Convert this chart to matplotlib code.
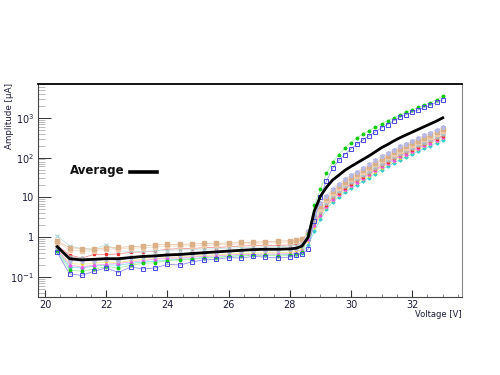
import numpy as np
import matplotlib
matplotlib.use("Agg")
import matplotlib.pyplot as plt
from matplotlib.ticker import LogLocator, FixedLocator, MultipleLocator, NullFormatter
from matplotlib.lines import Line2D

# Voltage grid (V)
voltage = [20.4, 20.8, 21.2, 21.6, 22.0, 22.4, 22.8, 23.2, 23.6, 24.0, 24.4, 24.8,
           25.2, 25.6, 26.0, 26.4, 26.8, 27.2, 27.6, 28.0, 28.2, 28.4,
           28.6, 28.8, 29.0, 29.2, 29.4, 29.6, 29.8, 30.0, 30.2, 30.4, 30.6, 30.8,
           31.0, 31.2, 31.4, 31.6, 31.8, 32.0, 32.2, 32.4, 32.6, 32.8, 33.0]

# Amplitudes (uA)
average = [0.58, 0.29, 0.27, 0.28, 0.29, 0.29, 0.31, 0.33, 0.34, 0.36, 0.37, 0.39,
           0.41, 0.43, 0.45, 0.47, 0.49, 0.5, 0.5, 0.51, 0.53, 0.6,
           1.0, 4.5, 10.7, 18, 27.5, 36, 48, 60, 74, 91, 112, 141,
           178, 214, 263, 316, 372, 437, 513, 603, 708, 832, 1000]
green = [0.45, 0.15, 0.14, 0.16, 0.18, 0.17, 0.2, 0.22, 0.23, 0.26, 0.27, 0.28,
         0.3, 0.31, 0.33, 0.34, 0.35, 0.35, 0.34, 0.35, 0.37, 0.42,
         1.2, 6.3, 16, 40, 76, 120, 178, 240, 316, 398, 479, 589,
         708, 851, 1000, 1175, 1380, 1585, 1820, 2090, 2400, 2880, 3550]
blue = [0.42, 0.12, 0.11, 0.14, 0.17, 0.13, 0.18, 0.16, 0.17, 0.21, 0.2, 0.24,
        0.27, 0.28, 0.31, 0.3, 0.33, 0.32, 0.3, 0.32, 0.35, 0.38,
        0.5, 2.5, 10.5, 26, 54, 85, 120, 166, 219, 282, 355, 447,
        562, 676, 851, 1023, 1200, 1380, 1585, 1820, 2090, 2450, 2820]
lavender = [0.52, 0.26, 0.25, 0.26, 0.28, 0.27, 0.3, 0.32, 0.33, 0.35, 0.36, 0.38,
            0.4, 0.42, 0.44, 0.46, 0.47, 0.48, 0.49, 0.5, 0.55, 0.65,
            1.4, 3.5, 7.1, 11.2, 16.6, 21.9, 28.8, 36.3, 44.7, 55, 67.6, 85,
            107, 129, 158, 191, 224, 263, 309, 363, 427, 501, 589]
tan = [0.8, 0.55, 0.52, 0.5, 0.55, 0.56, 0.58, 0.6, 0.64, 0.66, 0.66, 0.68,
       0.7, 0.7, 0.72, 0.74, 0.75, 0.78, 0.8, 0.82, 0.85, 0.9,
       1.26, 3.16, 6.0, 9.5, 14.5, 19, 25, 31.6, 39, 48, 59, 74,
       93, 112, 138, 166, 195, 229, 269, 316, 372, 437, 513]
peach = [0.75, 0.48, 0.45, 0.46, 0.5, 0.52, 0.53, 0.55, 0.57, 0.6, 0.6, 0.62,
         0.63, 0.65, 0.66, 0.68, 0.7, 0.72, 0.74, 0.76, 0.8, 0.88,
         1.32, 2.8, 5.2, 8.7, 13.2, 17.4, 22.9, 28.8, 35.5, 43.7, 53.7, 67.6,
         85, 102, 126, 151, 178, 209, 245, 288, 339, 398, 468]
teal = [1.1, 0.6, 0.52, 0.5, 0.65, 0.45, 0.45, 0.44, 0.46, 0.47, 0.48, 0.5,
        0.5, 0.52, 0.53, 0.55, 0.56, 0.57, 0.58, 0.6, 0.62, 0.7,
        1.0, 2.5, 4.8, 7.9, 12, 15.8, 20.9, 26.3, 32.4, 39.8, 49, 61.7,
        77.6, 93.3, 115, 138, 162, 191, 224, 263, 309, 363, 427]
gray = [0.6, 0.32, 0.3, 0.27, 0.3, 0.26, 0.32, 0.34, 0.35, 0.37, 0.38, 0.4,
        0.41, 0.43, 0.45, 0.46, 0.48, 0.49, 0.5, 0.52, 0.55, 0.62,
        1.12, 2.4, 4.3, 7.2, 11, 14.5, 19, 24, 29.5, 36.3, 44.7, 56.2,
        70.8, 85, 105, 126, 148, 174, 204, 240, 282, 331, 398]
red = [0.62, 0.36, 0.3, 0.37, 0.37, 0.38, 0.42, 0.43, 0.45, 0.5, 0.52, 0.52,
       0.55, 0.55, 0.58, 0.6, 0.62, 0.62, 0.63, 0.64, 0.66, 0.72,
       1.05, 2.24, 4.0, 6.6, 10, 13.2, 17.4, 21.9, 26.9, 33.1, 40.7, 51.3,
       64.6, 77.6, 95.5, 115, 135, 158, 186, 219, 257, 302, 355]
magenta = [0.5, 0.2, 0.18, 0.2, 0.21, 0.22, 0.24, 0.26, 0.28, 0.3, 0.3, 0.32,
           0.33, 0.34, 0.36, 0.37, 0.37, 0.38, 0.38, 0.39, 0.41, 0.48,
           0.89, 2.0, 3.7, 6.2, 9.3, 12.3, 16.2, 20.4, 25.1, 30.9, 38, 47.9,
           60.3, 72.4, 89.1, 107, 126, 148, 174, 204, 240, 282, 331]
yellow = [0.5, 0.22, 0.21, 0.22, 0.24, 0.23, 0.26, 0.28, 0.29, 0.31, 0.32, 0.33,
          0.35, 0.36, 0.38, 0.39, 0.4, 0.4, 0.41, 0.42, 0.44, 0.5,
          0.83, 1.86, 3.4, 5.75, 8.7, 11.5, 15.1, 19, 23.4, 28.8, 35.5, 44.7,
          56.2, 67.6, 83.2, 100, 117, 138, 162, 191, 224, 263, 309]
cyan = [0.46, 0.18, 0.17, 0.19, 0.2, 0.2, 0.22, 0.24, 0.25, 0.27, 0.28, 0.29,
        0.31, 0.32, 0.33, 0.35, 0.36, 0.36, 0.36, 0.37, 0.38, 0.4,
        0.63, 1.41, 2.8, 5.0, 7.8, 10.2, 13.5, 17, 20.9, 25.7, 31.6, 39.8,
        50.1, 60.3, 74.1, 89.1, 105, 123, 145, 170, 200, 234, 282]

x_ticks = [20, 22, 24, 26, 28, 30, 32]
y_ticks = [0.1, 1, 10, 100, 1000]
y_tick_labels = ["$10^{-1}$", "1", "10", "$10^{2}$", "$10^{3}$"]

fig = plt.figure(figsize=(5, 3.75), dpi=100)
ax = fig.add_axes([0.076, 0.208, 0.848, 0.568])

series = [
    (cyan, dict(color="#88e4e4", marker="D", ms=1.6, mfc="#33cccc", mec="#33cccc")),
    (yellow, dict(color="#efef88", marker="v", ms=2.0, mfc="#e0e022", mec="#e0e022")),
    (magenta, dict(color="#f4a4f4", marker="^", ms=2.0, mfc="#ee55ee", mec="#ee55ee")),
    (red, dict(color="#f49090", marker="s", ms=2.0, mfc="#ee3333", mec="#ee3333")),
    (gray, dict(color="#cfcfcf", marker="o", ms=2.2, mfc="#b4b4b4", mec="#b4b4b4")),
    (teal, dict(color="#c4e2e2", marker="x", ms=2.6, mfc="#a4d0d0", mec="#a4d0d0", mew=0.7)),
    (peach, dict(color="#f4dcc8", marker="s", ms=2.6, mfc="#f0cbaa", mec="#f0cbaa")),
    (tan, dict(color="#e8c8aa", marker="s", ms=2.6, mfc="#dab088", mec="#dab088")),
    (lavender, dict(color="#d0d0f0", marker="*", ms=3.6, mfc="#b8b8e4", mec="#b8b8e4")),
    (green, dict(color="#a4f0a4", marker="o", ms=1.8, mfc="#11cc11", mec="#11cc11")),
    (blue, dict(color="#9090ee", marker="s", ms=2.8, mfc="none", mec="#4848dd", mew=0.7)),
]
for vals, st in series:
    ax.plot(voltage, vals, lw=0.6, zorder=2, **st)

ax.plot(voltage, average, color="black", lw=2.0, zorder=5)

ax.set_yscale("log")
ax.set_xlim(19.77, 33.63)
ax.set_ylim(10 ** -1.5, 10 ** 3.85)

label_color = "#1c1c3c"
ax.xaxis.set_major_locator(FixedLocator(x_ticks))
ax.xaxis.set_minor_locator(MultipleLocator(0.5))
ax.set_xticklabels([str(v) for v in x_ticks])
ax.yaxis.set_major_locator(FixedLocator(y_ticks))
ax.set_yticklabels(y_tick_labels)
ax.yaxis.set_minor_locator(LogLocator(base=10, subs=np.arange(2, 10), numticks=20))
ax.yaxis.set_minor_formatter(NullFormatter())

ax.tick_params(axis="x", which="major", direction="in", length=5, width=0.8,
               labelsize=7, colors="#333333", labelcolor=label_color, pad=2, top=False)
ax.tick_params(axis="x", which="minor", direction="in", length=2.5, width=0.5,
               colors="#555555", top=False)
ax.tick_params(axis="y", which="major", direction="in", length=9, width=0.7,
               labelsize=7, colors="#333333", labelcolor=label_color, pad=3, right=False)
ax.tick_params(axis="y", which="minor", direction="in", length=5, width=0.4,
               colors="#888888", right=False)

ax.spines["top"].set_linewidth(1.3)
ax.spines["top"].set_color("black")
ax.spines["right"].set_linewidth(0.8)
ax.spines["right"].set_color("#888888")
ax.spines["left"].set_linewidth(0.8)
ax.spines["left"].set_color("#444444")
ax.spines["bottom"].set_linewidth(0.8)
ax.spines["bottom"].set_color("#444444")

fig.text(0.924, 0.162, "Voltage [V]", ha="right", va="center", fontsize=6.0, color=label_color)
fig.text(0.02, 0.778, "Amplitude [\u00b5A]", ha="center", va="top", rotation=90,
         fontsize=6.3, color=label_color)

# legend
fig.text(0.14, 0.544, "Average", ha="left", va="center", fontsize=8.5,
         fontweight="bold", color="#111111")
fig.add_artist(Line2D([0.26, 0.314], [0.541, 0.541], color="black", lw=2.6,
                      transform=fig.transFigure))

fig.savefig("out.png", dpi=100)
